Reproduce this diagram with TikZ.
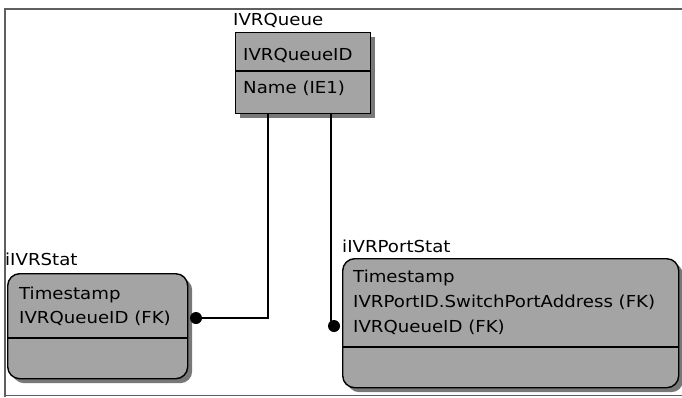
\documentclass[tikz,border=0pt]{standalone}
\usepackage{fontspec}
\newfontfamily\erfont[FakeStretch=1.1]{DejaVu Sans}
\definecolor{boxgray}{RGB}{164,164,164}
\definecolor{framegray}{RGB}{95,95,95}
\definecolor{shadowgray}{RGB}{120,120,120}
\tikzset{
  ent/.style={draw=black, line width=1.4pt, fill=boxgray, inner sep=0pt, anchor=north west},
  entshadow/.style={draw=none, fill=shadowgray, inner sep=0pt, anchor=north west},
  divider/.style={draw=black, line width=1.4pt},
  lbl/.style={anchor=base west, inner sep=0pt, font=\erfont\fontsize{16.5}{20}\selectfont},
  rel/.style={draw=black, line width=1.4pt},
  reldot/.style={circle, fill=black, draw=none, inner sep=0pt, minimum size=12pt},
  framestyle/.style={draw=framegray, line width=2.2pt},
}
\begin{document}
\begin{tikzpicture}[x=1pt, y=-1pt]
\useasboundingbox (0,0) rectangle (682,397);

% window frame
\draw[framegray, line width=1pt] (5,395.5) -- (682,395.5);
\draw[framestyle] (682,9) -- (5,9) -- (5,397);

% IVRQueue entity
\node[entshadow, minimum width=135pt, minimum height=81pt] at (240,37) {};
\node[ent, minimum width=135pt, minimum height=81pt] (queue) at (235,32) {};
\draw[divider] (queue.west |- 0,71) -- (queue.east |- 0,71);
\node[lbl] (queuename) at (233,25) {IVRQueue};
\node[lbl] (queuekey) at (243,60) {IVRQueueID};
\node[lbl] (queueattr) at (243,93) {Name (IE1)};

% iIVRStat entity
\node[entshadow, rounded corners=12pt, minimum width=180pt, minimum height=105pt] at (12,278) {};
\node[ent, rounded corners=12pt, minimum width=180pt, minimum height=105pt] (stat) at (7,273) {};
\draw[divider] (stat.west |- 0,338) -- (stat.east |- 0,338);
\node[lbl] (statname) at (5,265) {iIVRStat};
\node[lbl] (statk1) at (19,299) {Timestamp};
\node[lbl] (statk2) at (19,323) {IVRQueueID (FK)};

% iIVRPortStat entity
\node[entshadow, rounded corners=12pt, minimum width=336pt, minimum height=129pt] at (347,263) {};
\node[ent, rounded corners=12pt, minimum width=336pt, minimum height=129pt] (port) at (342,258) {};
\draw[divider] (port.west |- 0,347) -- (port.east |- 0,347);
\node[lbl] (portname) at (342,252) {iIVRPortStat};
\node[lbl] (portk1) at (353,282) {Timestamp};
\node[lbl] (portk2) at (353,307) {IVRPortID.SwitchPortAddress (FK)};
\node[lbl] (portk3) at (353,332) {IVRQueueID (FK)};

% relationships
\coordinate (qleft) at (268,0);
\coordinate (qright) at (331,0);
\coordinate (statend) at (196,318);
\coordinate (portend) at (334,326);
\draw[rel] (queue.south -| qleft) |- (statend);
\draw[rel] (queue.south -| qright) |- (portend);
\node[reldot] (statdot) at (statend) {};
\node[reldot] (portdot) at (portend) {};
\end{tikzpicture}
\end{document}
